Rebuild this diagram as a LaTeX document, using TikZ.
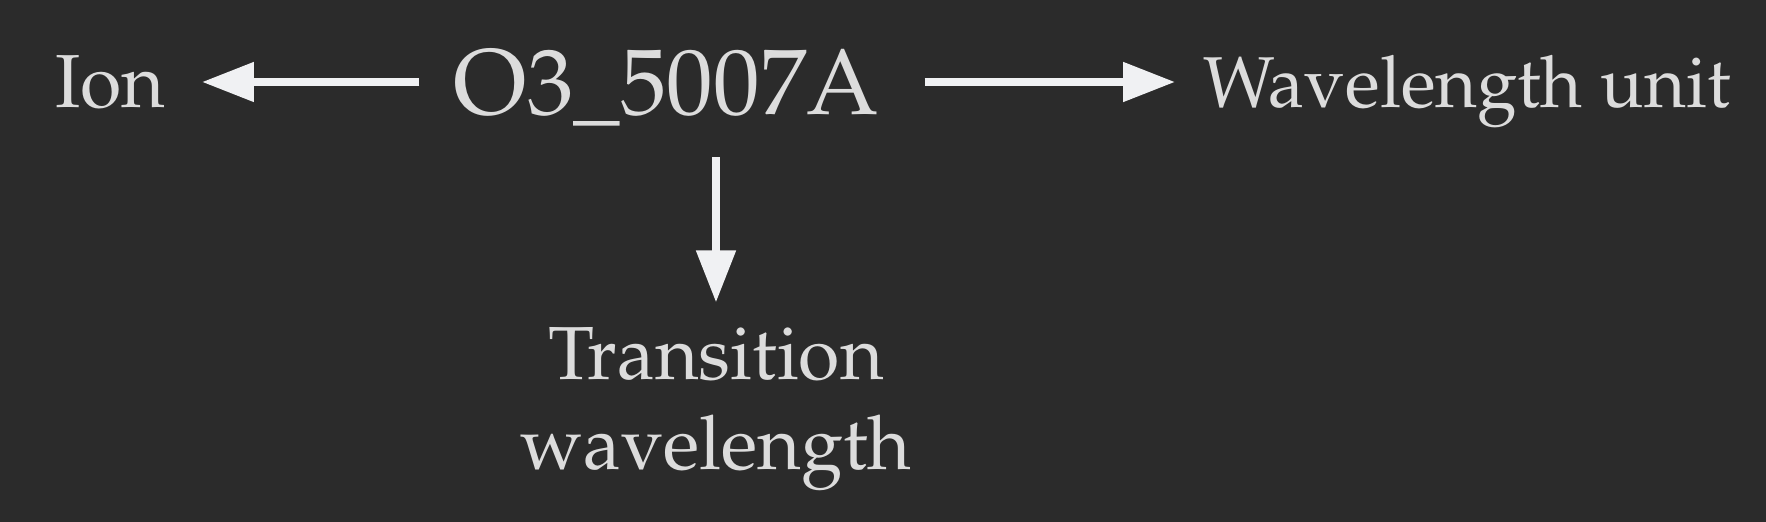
\documentclass[tikz,border=0pt]{standalone}
\usepackage[T1]{fontenc}
\usepackage{mathpazo}
\usetikzlibrary{arrows.meta}
\definecolor{bg}{HTML}{2B2B2B}
\definecolor{txt}{HTML}{DCDCDC}
\definecolor{arr}{HTML}{F0F1F3}
\begin{document}
\begin{tikzpicture}[x=0.5pt,y=-0.5pt,
  lbl/.style={inner sep=0pt, text=txt, font=\fontsize{37.6}{45}\selectfont, text height=26pt, text depth=0pt},
  big/.style={inner sep=0pt, text=txt, font=\fontsize{46.6}{56}\selectfont, text height=33pt, text depth=0pt},
  multi/.style={inner sep=0pt, text=txt, font=\fontsize{37.6}{45}\selectfont, align=center},
  conn/.style={draw=arr, line width=4pt, -{Triangle[length=26pt,width=19pt]}}]
\fill[bg] (0,0) rectangle (1766,522);
\useasboundingbox (0,0) rectangle (1766,522);
\node[big, anchor=base] (o3) at (666.5,115) {O3\_5007A};
\node[lbl, anchor=base] (ion) at (110.5,108) {Ion};
\node[lbl, anchor=base, font=\fontsize{36}{45}\selectfont] (wu) at (1467,108) {Wavelength unit};
\node[multi, anchor=base] (tw) at (716,470) {Transition\\wavelength};
\draw[conn, shorten <=17pt, shorten >=18pt] (o3.west) -- (ion.east);
\draw[conn, shorten <=22.5pt, shorten >=14pt] (o3.east) -- (wu.west);
\draw[conn, shorten <=21pt, shorten >=12.5pt] (o3.south -| tw.north) -- (tw.north);
\end{tikzpicture}
\end{document}
